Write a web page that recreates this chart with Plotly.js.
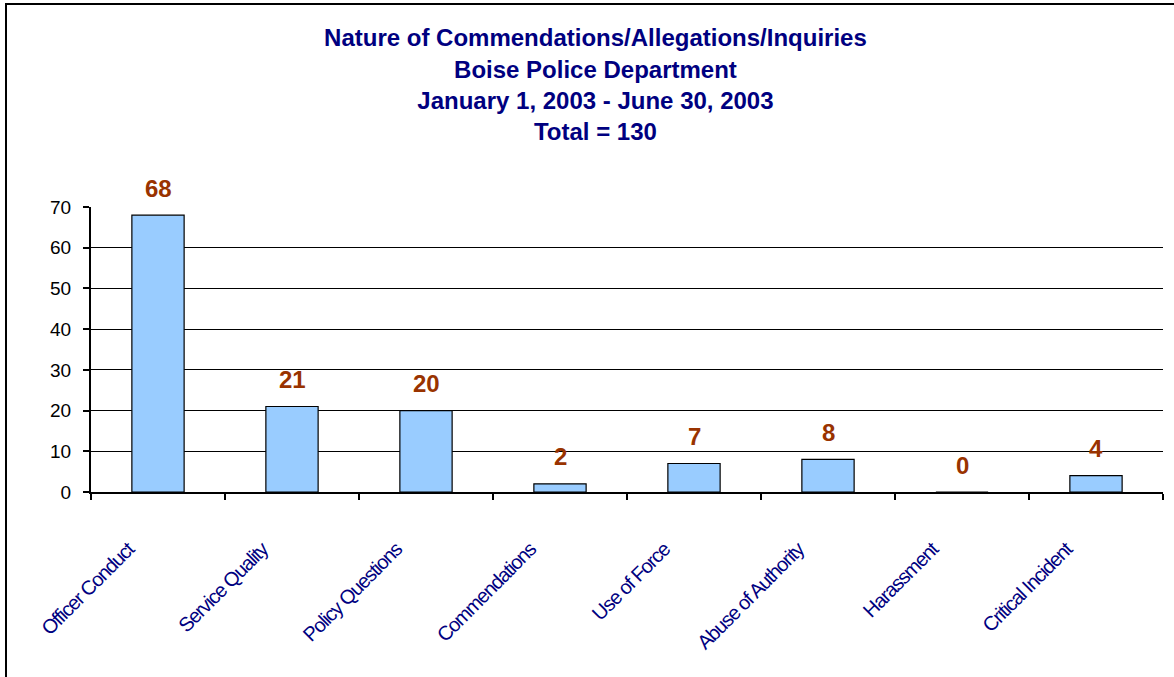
<!DOCTYPE html>
<html>
<head>
<meta charset="utf-8">
<script src="https://cdn.plot.ly/plotly-3.0.1.min.js"></script>
<style>
  html, body { margin: 0; padding: 0; background: #ffffff; overflow: hidden; }
  #wrap { position: relative; width: 1174px; height: 677px; overflow: hidden; }
  #chart { position: absolute; left: 0; top: 0; width: 1174px; height: 677px; }
  #frame { position: absolute; left: 5px; top: 3px; width: 1200px; height: 720px; border: 2px solid #000; pointer-events: none; }
  .xtick text { letter-spacing: -1.2px; }
</style>
</head>
<body>
<div id="wrap">
  <div id="chart"></div>
  <div id="frame"></div>
</div>
<script>
const titleLines = [
  "Nature of Commendations/Allegations/Inquiries",
  "Boise Police Department",
  "January 1, 2003 - June 30, 2003",
  "Total = 130"
];
const categories = [
  "Officer Conduct", "Service Quality", "Policy Questions", "Commendations",
  "Use of Force", "Abuse of Authority", "Harassment", "Critical Incident"
];
const values = [68, 21, 20, 2, 7, 8, 0, 4];
const yTickVals = [0, 10, 20, 30, 40, 50, 60, 70];
const yGridVals = [10, 20, 30, 40, 50, 60];

const FONT = "Liberation Sans, Arial, sans-serif";

const traces = [
  {
    type: "bar",
    x: categories,
    y: values,
    marker: { color: "#99CCFF", line: { color: "#000000", width: 1.2 } },
    hoverinfo: "skip"
  },
  {
    type: "scatter",
    x: [],
    y: [],
    yaxis: "y2",
    hoverinfo: "skip",
    showlegend: false
  }
];

const annotations = categories.map((c, i) => ({
  x: c,
  y: values[i],
  xref: "x",
  yref: "y",
  text: String(values[i]),
  showarrow: false,
  yanchor: "middle",
  yshift: 27,
  font: { family: FONT, size: 24, weight: "bold", color: "#993300" }
}));

const layout = {
  width: 1174,
  height: 677,
  margin: { l: 91, r: 11, t: 207, b: 185 },
  paper_bgcolor: "#ffffff",
  plot_bgcolor: "rgba(0,0,0,0)",
  showlegend: false,
  bargap: 0.61,
  title: {
    text: titleLines.join("<br>"),
    font: { family: FONT, size: 24, weight: "bold", color: "#000080" },
    xref: "container",
    yref: "container",
    x: 0.5072,
    xanchor: "center",
    y: 0.9315,
    yanchor: "top"
  },
  xaxis: {
    type: "category",
    tickson: "boundaries",
    ticks: "outside",
    ticklen: 6,
    tickwidth: 2,
    tickcolor: "#000000",
    showline: true,
    linecolor: "#000000",
    linewidth: 2,
    layer: "above traces",
    showgrid: false,
    zeroline: false,
    tickangle: -45,
    ticklabelshift: -30,
    ticklabelstandoff: 36,
    tickfont: { family: FONT, size: 20, color: "#000080" }
  },
  yaxis: {
    range: [0, 70],
    tickvals: yTickVals,
    ticktext: yTickVals.map(String),
    ticks: "outside",
    ticklen: 6,
    tickwidth: 2,
    tickcolor: "#000000",
    showline: true,
    linecolor: "#000000",
    linewidth: 2,
    showgrid: false,
    zeroline: false,
    ticklabelstandoff: 8,
    tickfont: { family: FONT, size: 19, color: "#000000" }
  },
  yaxis2: {
    overlaying: "y",
    side: "left",
    range: [0, 70],
    tickvals: yGridVals,
    showticklabels: false,
    ticks: "",
    showline: false,
    showgrid: true,
    gridcolor: "#000000",
    gridwidth: 1,
    zeroline: false
  },
  annotations: annotations
};

Plotly.newPlot("chart", traces, layout, { staticPlot: true, displayModeBar: false });
</script>
</body>
</html>
